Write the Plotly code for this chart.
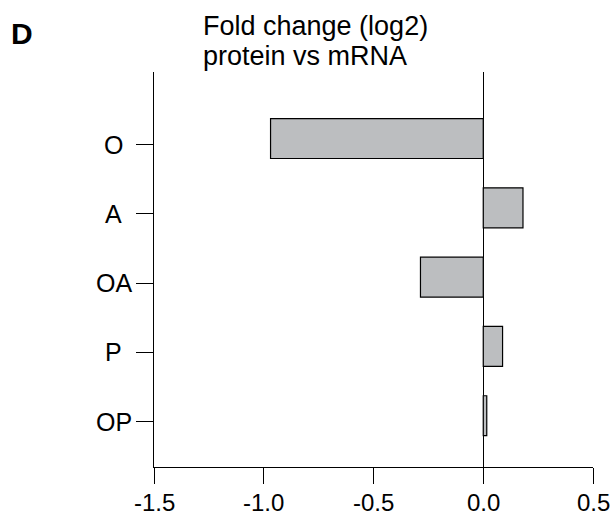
import plotly.graph_objects as go

categories = ["O", "A", "OA", "P", "OP"]
values = [-0.969, 0.181, -0.286, 0.088, 0.016]
x_ticks = [-1.5, -1.0, -0.5, 0.0, 0.5]
x_tick_labels = ["-1.5", "-1.0", "-0.5", "0.0", "0.5"]

FONT = "Liberation Sans, Arial, sans-serif"
positions = list(range(len(categories)))
tick_offset = 0.087  # tick marks sit slightly below bar centres in the original
tick_positions = [p + tick_offset for p in positions]

W, H = 613, 529
ML, MR, MT, MB = 154, 20, 72, 62
pw = W - ML - MR
ph = H - MT - MB


def px_x(x):
    return (x - ML) / pw


def px_y(y):
    return (H - MB - y) / ph


fig = go.Figure()
fig.add_trace(go.Bar(
    x=values,
    y=positions,
    orientation="h",
    width=0.577,
    marker=dict(color="#BCBEC0", line=dict(color="black", width=1.2)),
    showlegend=False,
    hoverinfo="skip",
))

annotations = [
    dict(text="<b>D</b>", x=px_x(22), y=px_y(33.5), xref="paper", yref="paper",
         xanchor="center", yanchor="middle", showarrow=False,
         font=dict(size=30, family=FONT)),
    dict(text="Fold change (log2)", x=px_x(201), y=px_y(26.3), xref="paper", yref="paper",
         xanchor="left", yanchor="middle", showarrow=False,
         font=dict(size=27, family=FONT)),
    dict(text="protein vs mRNA", x=px_x(201), y=px_y(55.6), xref="paper", yref="paper",
         xanchor="left", yanchor="middle", showarrow=False,
         font=dict(size=27, family=FONT)),
]
for cat, tp in zip(categories, tick_positions):
    annotations.append(dict(text=cat, x=px_x(113.5), y=tp, xref="paper", yref="y",
                            xanchor="center", yanchor="middle", showarrow=False,
                            font=dict(size=25, family=FONT)))
for tv, tl in zip(x_ticks, x_tick_labels):
    annotations.append(dict(text=tl, x=tv, y=px_y(502.4), xref="x", yref="paper",
                            xanchor="center", yanchor="middle", showarrow=False,
                            font=dict(size=24, family=FONT)))

fig.update_layout(
    width=W, height=H,
    margin=dict(l=ML, r=MR, t=MT, b=MB, pad=0),
    paper_bgcolor="white", plot_bgcolor="white",
    font=dict(family=FONT, size=24, color="black"),
    xaxis=dict(
        range=[-1.5, 0.5], tickvals=x_ticks, ticktext=["" for _ in x_ticks],
        ticks="outside", ticklen=16, tickwidth=1, tickcolor="black",
        showline=True, linecolor="black", linewidth=1, automargin=False,
        showgrid=False, zeroline=True, zerolinecolor="black", zerolinewidth=1,
    ),
    yaxis=dict(
        range=[4.74, -0.96], tickvals=tick_positions,
        ticktext=["" for _ in categories], automargin=False,
        ticks="outside", ticklen=17, tickwidth=1, tickcolor="black",
        showline=True, linecolor="black", linewidth=1,
        showgrid=False, zeroline=False,
    ),
    annotations=annotations,
)

fig.write_html(
    "out.html",
    config={"displayModeBar": False},
    post_script="document.body.style.margin='0';document.body.style.overflow='hidden';",
)
